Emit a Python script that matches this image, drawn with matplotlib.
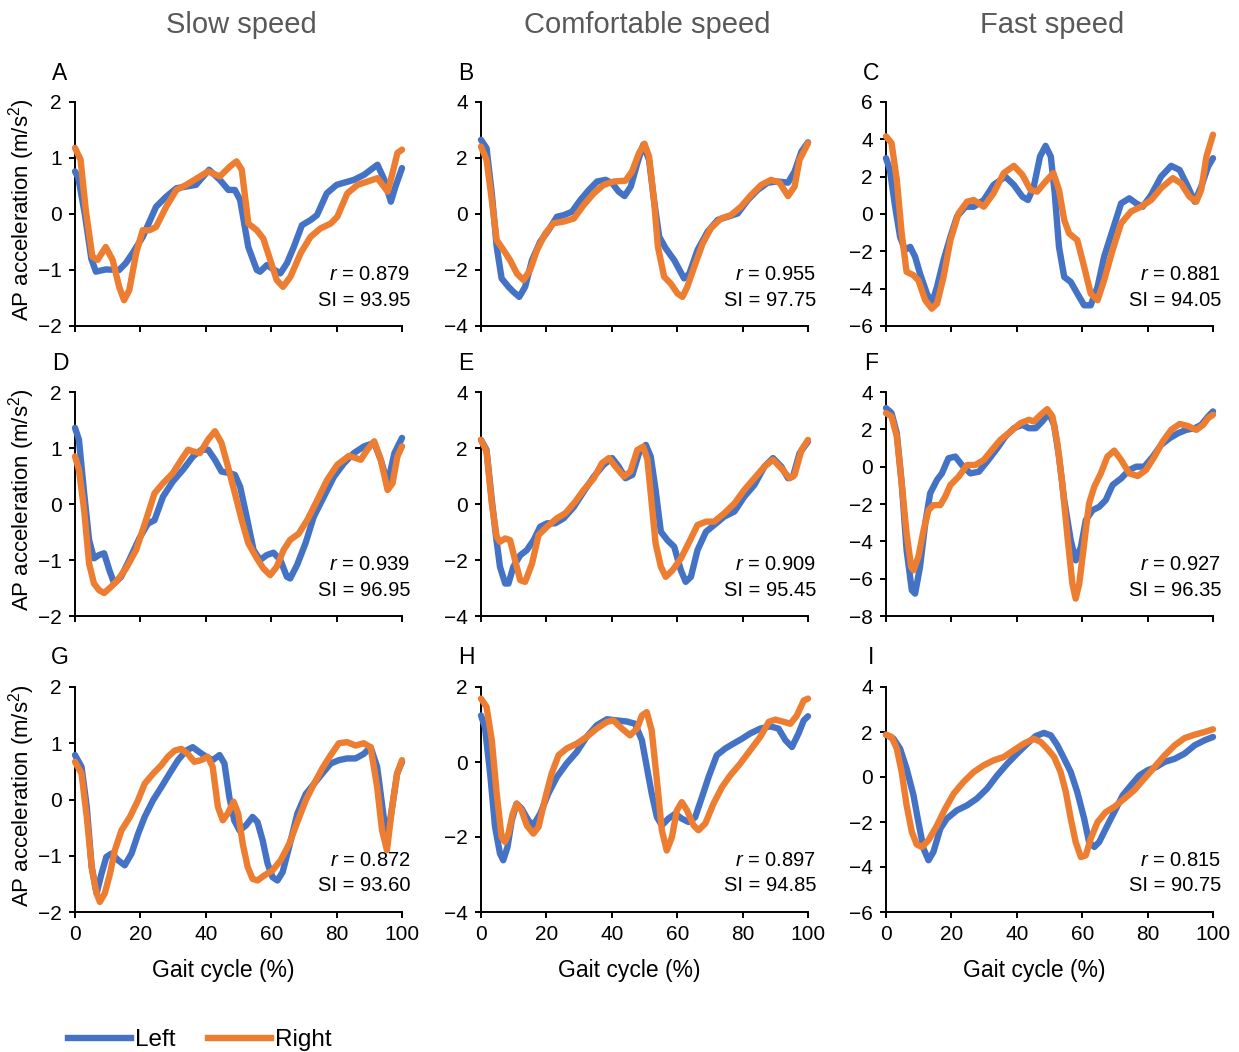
import matplotlib.pyplot as plt

plt.rcParams['font.family'] = ['Liberation Sans', 'DejaVu Sans']
plt.rcParams['mathtext.fontset'] = 'custom'
plt.rcParams['mathtext.rm'] = 'Liberation Sans'
plt.rcParams['mathtext.it'] = 'Liberation Sans:italic'

BLUE = '#4472C4'
ORANGE = '#ED7D31'

# ---- data (gait cycle %, AP acceleration m/s^2) ----
# A: slow
a_left_x = [0, 1, 3, 5, 6.4, 9.4, 13.5, 15.5, 17.6, 20.7, 24.8, 27.9, 31, 34, 37, 41, 44.3, 46.9, 48.9, 50.5,
            53, 55.6, 56.6, 58.7, 60.2, 62.8, 64.8, 66.9, 69.4, 72, 74, 77, 80, 85.3, 88.4, 92.5, 94.6, 96.6, 98, 100]
a_left_y = [0.76, 0.65, 0.0, -0.8, -1.03, -0.99, -1.0, -0.88, -0.70, -0.41, 0.13, 0.31, 0.46, 0.49, 0.52, 0.79,
            0.61, 0.43, 0.43, 0.25, -0.59, -1.0, -1.03, -0.91, -0.97, -1.06, -0.88, -0.59, -0.2, -0.11, -0.02,
            0.37, 0.52, 0.61, 0.70, 0.88, 0.61, 0.22, 0.49, 0.82]
a_right_x = [0, 1.7, 3.3, 5.3, 6.9, 9.4, 11.5, 13.5, 15, 16.6, 18.7, 20.7, 22.8, 24.8, 27.9, 31, 34, 38.2, 40.7,
             44.3, 47.4, 49.4, 51, 53, 55.6, 57.6, 59.7, 61.7, 63.6, 65.9, 69, 72, 75, 78.2, 80.2, 83.3, 86.4,
             89.5, 92.5, 95.6, 97.1, 98.6, 100]
a_right_y = [1.18, 0.97, 0.07, -0.76, -0.82, -0.59, -0.82, -1.3, -1.54, -1.36, -0.70, -0.29, -0.29, -0.23, 0.13,
             0.43, 0.52, 0.67, 0.76, 0.67, 0.85, 0.94, 0.79, -0.17, -0.29, -0.44, -0.82, -1.18, -1.30, -1.12,
             -0.70, -0.41, -0.26, -0.17, -0.05, 0.37, 0.52, 0.58, 0.64, 0.40, 0.73, 1.09, 1.15]

# B: comfortable
b_left_x = [0, 1.7, 3.3, 4.8, 6.3, 8.4, 9.9, 11.7, 13.5, 15.6, 18.1, 20.7, 23.2, 25.3, 27.8, 30.4, 33, 35.5,
            38.1, 40.1, 42.1, 43.9, 45.8, 47.8, 49.6, 51.4, 52.9, 54.5, 56.5, 59.1, 62.1, 63.7, 66.2, 69.3, 72.4,
            75.4, 78.5, 81.6, 84.6, 87.7, 90.8, 93.9, 95.9, 98, 100]
b_left_y = [2.65, 2.35, 0.74, -1.17, -2.30, -2.6, -2.78, -2.96, -2.6, -1.65, -0.99, -0.57, -0.1, -0.04, 0.08,
            0.50, 0.86, 1.16, 1.22, 1.10, 0.80, 0.64, 0.98, 1.81, 2.47, 1.93, 0.50, -0.81, -1.23, -1.65, -2.30,
            -2.13, -1.29, -0.63, -0.21, -0.1, 0.02, 0.5, 0.86, 1.12, 1.16, 1.12, 1.52, 2.23, 2.56]
b_right_x = [0, 1.7, 3.3, 4.8, 6.9, 8.9, 11, 13, 15, 17.1, 19.7, 22.2, 25.3, 28.4, 31.4, 34.5, 37.5, 40.6, 44.2,
             46.2, 48.3, 50, 51.4, 52.9, 54.1, 56, 58, 60.1, 61.6, 63.1, 65.2, 67.8, 70.3, 73.4, 76.4, 79.5, 82.6,
             85.7, 88.7, 91.3, 93.9, 95.9, 97.4, 100]
b_right_y = [2.41, 1.93, 0.50, -0.93, -1.29, -1.65, -2.13, -2.36, -2.0, -1.29, -0.69, -0.33, -0.27, -0.16, 0.32,
             0.74, 1.04, 1.16, 1.19, 1.52, 2.17, 2.51, 2.05, 0.5, -1.17, -2.24, -2.48, -2.84, -2.96, -2.6, -1.89,
             -1.05, -0.51, -0.16, -0.04, 0.26, 0.68, 1.04, 1.22, 1.12, 0.64, 0.98, 1.93, 2.53]

# C: fast
c_left_x = [0, 1.2, 2.8, 4.3, 5.8, 7.4, 8.9, 10.4, 12.5, 14, 15.6, 17.6, 19.7, 21.7, 24.3, 26.8, 29.9, 32.9,
            36.5, 39.1, 41.7, 43.4, 45.2, 47.1, 48.8, 50.4, 51.6, 52.9, 54.5, 56.5, 58.5, 60.6, 62.6, 64.7, 66.7,
            69.3, 71.9, 74.4, 76.5, 78.5, 81.1, 84.1, 87.2, 89.8, 92.3, 94.4, 96.4, 98.5, 100]
c_left_y = [2.99, 2.36, 0.39, -1.22, -1.93, -1.76, -2.29, -3.19, -4.26, -4.8, -3.9, -2.47, -1.22, -0.14, 0.39,
            0.39, 0.75, 1.56, 2.0, 1.56, 0.93, 0.75, 1.47, 3.08, 3.65, 3.08, 1.11, -1.76, -3.37, -3.64, -4.26,
            -4.89, -4.89, -3.9, -2.29, -0.86, 0.57, 0.84, 0.57, 0.39, 1.02, 2.0, 2.58, 2.36, 1.47, 0.66, 1.47,
            2.54, 2.99]
c_right_x = [0, 1.7, 3.3, 4.8, 6.3, 8.4, 9.9, 12, 14, 15.6, 17.6, 19.7, 22.2, 24.8, 26.8, 29.9, 32.9, 36, 39.1,
             41.7, 44.2, 46.2, 48.8, 51.2, 52.9, 54.5, 56, 58.5, 60.6, 62.6, 64.7, 66.7, 69.3, 71.9, 74.9, 78,
             81.1, 84.1, 87.7, 90.2, 92.8, 94.9, 96.4, 98, 100]
c_right_y = [4.16, 3.8, 1.83, -1.04, -3.1, -3.28, -3.55, -4.62, -5.07, -4.8, -3.37, -1.40, 0.04, 0.66, 0.75,
             0.39, 1.11, 2.19, 2.58, 2.1, 1.29, 1.2, 1.74, 2.19, 1.29, -0.32, -1.04, -1.40, -2.83, -4.26, -4.62,
             -3.55, -1.93, -0.5, 0.13, 0.39, 0.75, 1.38, 1.92, 1.65, 0.93, 0.66, 1.29, 3.08, 4.25]

# D: slow
d_left_x = [0, 1.2, 2.8, 4.3, 5.8, 7.4, 8.9, 10.5, 12, 14.1, 16.6, 19.7, 22.3, 24.3, 26.9, 29.9, 33, 36.1, 38.7,
            40.7, 42.8, 44.8, 47.4, 48.9, 50.5, 52.5, 54.6, 56.6, 58.7, 60.7, 62.8, 64.8, 65.8, 67.9, 70.5, 73,
            76.1, 79.2, 82.3, 85.3, 88.4, 91.5, 93.5, 95.6, 97.7, 100]
d_left_y = [1.36, 1.15, 0.19, -0.64, -0.97, -0.91, -0.88, -1.18, -1.42, -1.3, -1.0, -0.61, -0.35, -0.29, 0.13,
            0.40, 0.61, 0.85, 0.97, 0.97, 0.79, 0.58, 0.55, 0.52, 0.31, -0.23, -0.82, -1.0, -0.91, -0.87, -1.0,
            -1.3, -1.33, -1.09, -0.70, -0.23, 0.13, 0.49, 0.73, 0.91, 1.03, 1.09, 0.79, 0.37, 0.91, 1.18]
d_right_x = [0, 1.2, 2.8, 4.3, 5.8, 7.4, 8.9, 11, 13, 15.6, 18.7, 21.7, 24.3, 26.9, 29.9, 32.5, 34.6, 36.1,
             38.2, 40.7, 42.8, 44.8, 46.9, 48.9, 51, 53, 55.6, 57.6, 59.7, 61.7, 63.8, 65.8, 68.4, 71, 74.1,
             77.1, 80.2, 83.8, 87.4, 89.4, 91.5, 93.5, 95.6, 97.1, 98.6, 100]
d_right_y = [0.85, 0.61, -0.11, -1.06, -1.42, -1.54, -1.59, -1.48, -1.36, -1.15, -0.82, -0.29, 0.19, 0.37,
             0.55, 0.79, 0.97, 0.94, 0.91, 1.15, 1.30, 1.09, 0.64, 0.19, -0.29, -0.70, -0.97, -1.15, -1.27,
             -1.12, -0.82, -0.64, -0.53, -0.29, 0.07, 0.43, 0.70, 0.86, 0.79, 0.97, 1.12, 0.79, 0.25, 0.37,
             0.85, 1.03]

# E: comfortable
e_left_x = [0, 1.7, 3.3, 4.6, 5.8, 7.4, 8.4, 9.9, 12, 14, 16.1, 18.1, 20.2, 22.7, 25.3, 28.4, 31.4, 34.5, 37.5,
            40.1, 42.1, 44.2, 46.3, 48.3, 50.4, 51.9, 53.4, 55, 57, 59.1, 61.1, 62.6, 64.2, 66.2, 68.8, 71.3,
            74.4, 77.5, 80.5, 83.6, 86.7, 89.3, 91.8, 93.9, 95.4, 97.4, 100]
e_left_y = [2.29, 1.93, 0.14, -1.17, -2.24, -2.84, -2.84, -2.24, -1.83, -1.65, -1.29, -0.81, -0.69, -0.69,
            -0.51, -0.10, 0.44, 0.98, 1.40, 1.64, 1.34, 0.92, 1.04, 1.81, 2.11, 1.70, 0.50, -0.99, -1.29, -1.53,
            -2.36, -2.78, -2.6, -1.65, -0.99, -0.75, -0.45, -0.27, 0.26, 0.68, 1.34, 1.64, 1.34, 0.92, 0.98,
            1.81, 2.23]
e_right_x = [0, 1.7, 3.3, 4.8, 5.8, 7.4, 8.9, 10.4, 12, 13.5, 15.6, 17.6, 20.2, 23.2, 25.8, 28.8, 31.4, 34.5,
             37, 39.1, 41.1, 43.7, 45.7, 47.8, 49.6, 50.9, 52.1, 53.4, 55, 56.5, 58.6, 61.1, 63.7, 66.2, 68.8,
             71.3, 74.4, 77.5, 80.5, 83.6, 86.7, 89.3, 91.8, 94.4, 95.9, 98, 100]
e_right_y = [2.29, 1.87, 0.02, -1.17, -1.35, -1.23, -1.29, -2.0, -2.72, -2.78, -2.13, -1.11, -0.81, -0.51,
             -0.33, 0.08, 0.50, 0.92, 1.46, 1.64, 1.34, 0.98, 1.16, 1.93, 2.05, 1.58, 0.14, -1.41, -2.24, -2.60,
             -2.36, -1.95, -1.35, -0.75, -0.63, -0.63, -0.33, 0.02, 0.50, 0.92, 1.34, 1.58, 1.28, 0.92, 1.04,
             1.93, 2.29]

# F: fast
f_left_x = [0, 1.7, 3.3, 4.8, 6.3, 7.9, 8.9, 10.4, 12, 13.5, 15.6, 17.1, 19.1, 21.2, 23.2, 25.8, 28.4, 30.9, 34,
            36.5, 39.1, 41.7, 43.7, 45.8, 47.8, 49.8, 51.4, 52.9, 54.5, 56.5, 58, 59.6, 61.1, 63.2, 65.2, 67.2,
            69.3, 71.9, 74.4, 76.5, 79, 81.6, 84.1, 86.7, 89.3, 91.8, 94.4, 96.4, 98.5, 100]
f_left_y = [3.14, 2.87, 1.80, -0.89, -4.47, -6.62, -6.80, -5.37, -3.04, -1.43, -0.71, -0.36, 0.45, 0.54, 0.09,
            -0.36, -0.27, 0.27, 0.98, 1.61, 2.06, 2.24, 2.06, 2.06, 2.42, 2.87, 2.24, 0.54, -1.79, -3.94, -5.02,
            -4.30, -2.86, -2.33, -2.15, -1.79, -0.98, -0.63, -0.18, 0.0, 0.0, 0.54, 1.16, 1.52, 1.79, 1.97,
            2.06, 2.24, 2.69, 2.96]
f_right_x = [0, 1.7, 3.3, 4.8, 6.3, 7.7, 8.4, 9.9, 11.5, 13, 14.5, 16.6, 18.1, 19.7, 22.2, 24.8, 27.3, 29.9,
             32.4, 35, 38.1, 41.1, 43.7, 45.2, 47.3, 49.3, 50.9, 52.4, 53.9, 55.5, 57, 58, 59.1, 60.6, 62.1,
             63.7, 65.7, 67.7, 69.8, 71.9, 74.4, 77, 79.5, 82.1, 84.6, 87.2, 89.8, 92.3, 94.9, 97, 98.5, 100]
f_right_y = [2.87, 2.69, 1.62, -0.89, -3.58, -5.37, -5.55, -4.83, -3.40, -2.33, -2.06, -2.06, -1.61, -0.98,
             -0.54, 0.09, 0.09, 0.36, 0.90, 1.44, 1.88, 2.33, 2.51, 2.42, 2.78, 3.08, 2.69, 1.26, -0.89, -3.76,
             -6.27, -7.07, -6.27, -4.12, -1.97, -1.07, -0.36, 0.54, 0.86, 0.36, -0.36, -0.5, -0.18, 0.54, 1.34,
             1.97, 2.29, 2.18, 1.97, 2.24, 2.60, 2.78]

# G: slow
g_left_x = [0, 2, 3.6, 5.1, 6.6, 8.1, 9.6, 11.2, 13.2, 15.2, 17.3, 19.3, 21.3, 23.9, 26.4, 28.9, 31.5, 34, 36,
            38.1, 40.1, 42.1, 44.2, 45.7, 47.2, 48.7, 50.3, 52.3, 54.3, 55.8, 57.4, 58.9, 60.4, 61.9, 63.5, 65.5,
            68, 70.6, 73.1, 75.6, 78.2, 80.7, 83.2, 85.8, 88.3, 90.4, 92.4, 94.4, 95.4, 97, 98.5, 100]
g_left_y = [0.79, 0.58, -0.13, -1.2, -1.67, -1.32, -1.02, -0.96, -1.08, -1.17, -0.96, -0.61, -0.31, -0.01, 0.22,
            0.46, 0.70, 0.87, 0.93, 0.84, 0.76, 0.70, 0.79, 0.64, 0.04, -0.37, -0.55, -0.46, -0.31, -0.40, -0.73,
            -1.14, -1.38, -1.44, -1.29, -0.84, -0.25, 0.10, 0.28, 0.46, 0.64, 0.70, 0.73, 0.73, 0.81, 0.93, 0.58,
            -0.31, -0.73, -0.13, 0.46, 0.67]
g_right_x = [0, 2, 3.6, 5.1, 6.6, 7.6, 9.1, 10.7, 12.2, 14.2, 16.8, 19.3, 21.3, 23.9, 26.4, 28.4, 30.5, 32.5,
             34.5, 36.5, 38.6, 40.6, 42.1, 43.7, 45.2, 46.7, 48.5, 49.9, 51.3, 52.8, 54.3, 55.8, 57.9, 60.4,
             62.9, 65.5, 68, 70.6, 73.1, 75.6, 78.2, 80.7, 83.2, 85.8, 88.3, 90.4, 92.4, 93.9, 95.4, 97, 98.5, 100]
g_right_y = [0.67, 0.46, -0.31, -1.2, -1.67, -1.82, -1.67, -1.32, -0.90, -0.55, -0.31, -0.01, 0.28, 0.46, 0.61,
             0.76, 0.87, 0.90, 0.81, 0.67, 0.70, 0.76, 0.58, -0.13, -0.37, -0.25, -0.04, -0.25, -0.79, -1.20,
             -1.41, -1.44, -1.35, -1.26, -1.08, -0.79, -0.40, -0.01, 0.28, 0.55, 0.79, 1.0, 1.02, 0.96, 1.0,
             0.93, 0.22, -0.55, -0.90, -0.13, 0.46, 0.70]

# H: comfortable
h_left_x = [0, 1.2, 2.8, 4.3, 5.8, 6.8, 8.1, 9.4, 10.9, 12.4, 14.5, 16, 18.1, 20.6, 23.2, 26.2, 29.3, 32.3,
            35.4, 38.5, 41.5, 44.6, 47.1, 49.2, 50.7, 52.2, 53.8, 55.3, 57.3, 59.4, 61.4, 63.5, 65.5, 67.6, 69.6,
            72.1, 74.7, 77.2, 79.8, 82.3, 85.4, 88.5, 91, 93.1, 95.1, 97.1, 98.7, 100]
h_left_y = [1.24, 0.93, -0.31, -1.73, -2.44, -2.62, -2.27, -1.56, -1.11, -1.24, -1.56, -1.69, -1.38, -0.84,
            -0.40, -0.04, 0.27, 0.67, 0.98, 1.14, 1.11, 1.08, 1.02, 0.58, -0.13, -0.84, -1.47, -1.69, -1.51,
            -1.38, -1.51, -1.6, -1.47, -0.93, -0.40, 0.18, 0.36, 0.49, 0.62, 0.76, 0.89, 0.95, 0.89, 0.58, 0.40,
            0.76, 1.11, 1.22]
h_right_x = [0, 1.7, 3.3, 4.8, 6.3, 7.3, 8.4, 9.7, 10.9, 12.4, 14, 16, 17.6, 19.6, 21.6, 23.7, 26.2, 29.3,
             32.3, 35.4, 38.5, 40.5, 43.1, 45.6, 47.7, 49.2, 50.7, 52.2, 53.8, 55.3, 56.8, 58.4, 59.9, 61.4, 63,
             65, 66.5, 68.6, 71.1, 73.7, 76.2, 79.3, 82.3, 85.4, 88, 90, 92.6, 94.6, 96.6, 98.7, 100]
h_right_y = [1.69, 1.47, 0.58, -0.84, -2.0, -2.13, -1.91, -1.38, -1.11, -1.29, -1.69, -1.91, -1.73, -0.98,
             -0.31, 0.18, 0.36, 0.49, 0.67, 0.89, 1.07, 1.11, 0.89, 0.71, 0.89, 1.24, 1.33, 0.84, -0.49, -1.82,
             -2.36, -2.0, -1.29, -1.07, -1.29, -1.69, -1.82, -1.64, -1.11, -0.67, -0.36, -0.04, 0.31, 0.67,
             1.07, 1.13, 1.07, 1.02, 1.24, 1.64, 1.69]

# I: fast
i_left_x = [0, 2.3, 4.3, 6.3, 8.4, 9.9, 11.5, 13, 14.5, 16.6, 18.6, 21.7, 24.8, 27.8, 30.9, 34, 37.1, 40.1,
            43.2, 45.8, 48.3, 50.4, 52.4, 54.5, 56.5, 58.5, 60.6, 62.1, 63.7, 65.2, 67.2, 69.8, 72.4, 74.9, 77.5,
            80, 82.6, 85.2, 88.3, 91.3, 94.4, 97.4, 100]
i_left_y = [1.88, 1.70, 1.26, 0.37, -0.81, -2.0, -3.19, -3.70, -3.33, -2.30, -1.85, -1.48, -1.26, -0.96, -0.52,
            0.07, 0.59, 1.04, 1.48, 1.82, 1.96, 1.85, 1.41, 0.81, 0.22, -0.67, -1.85, -2.89, -3.11, -2.89,
            -2.30, -1.56, -0.81, -0.37, 0.07, 0.30, 0.44, 0.67, 0.81, 1.04, 1.41, 1.63, 1.78]
i_right_x = [0, 1.7, 3.3, 4.8, 6.3, 7.9, 9.4, 11, 13, 15.6, 18.1, 20.7, 23.7, 26.8, 29.9, 32.9, 36, 39.1, 42.1,
             45.2, 47.3, 49.3, 51.4, 53.4, 55, 56.5, 58, 59.6, 61.1, 62.6, 64.7, 67.2, 69.8, 72.9, 75.9, 79,
             82.1, 85.2, 88.3, 91.3, 94.4, 97.4, 100]
i_right_y = [1.88, 1.78, 1.26, 0.22, -1.26, -2.44, -3.0, -3.11, -2.81, -2.15, -1.41, -0.74, -0.22, 0.22, 0.52,
             0.74, 0.89, 1.19, 1.48, 1.70, 1.56, 1.26, 0.89, 0.22, -0.67, -1.85, -2.89, -3.56, -3.48, -2.74,
             -2.0, -1.56, -1.33, -0.96, -0.59, -0.07, 0.44, 0.96, 1.41, 1.73, 1.88, 2.0, 2.12]

panel_letters = ["A", "B", "C", "D", "E", "F", "G", "H", "I"]
r_values = ["0.879", "0.955", "0.881", "0.939", "0.909", "0.927", "0.872", "0.897", "0.815"]
si_values = ["93.95", "97.75", "94.05", "96.95", "95.45", "96.35", "93.60", "94.85", "90.75"]
y_limits = [(-2, 2, 1), (-4, 4, 2), (-6, 6, 2),
            (-2, 2, 1), (-4, 4, 2), (-8, 4, 2),
            (-2, 2, 1), (-4, 2, 2), (-6, 4, 2)]
col_titles = ["Slow speed", "Comfortable speed", "Fast speed"]
x_ticks = [0, 20, 40, 60, 80, 100]

series = [(a_left_x, a_left_y, a_right_x, a_right_y), (b_left_x, b_left_y, b_right_x, b_right_y),
          (c_left_x, c_left_y, c_right_x, c_right_y), (d_left_x, d_left_y, d_right_x, d_right_y),
          (e_left_x, e_left_y, e_right_x, e_right_y), (f_left_x, f_left_y, f_right_x, f_right_y),
          (g_left_x, g_left_y, g_right_x, g_right_y), (h_left_x, h_left_y, h_right_x, h_right_y),
          (i_left_x, i_left_y, i_right_x, i_right_y)]

W, H = 1239, 1052
fig = plt.figure(figsize=(W / 100, H / 100), dpi=100)

col_left = [75, 481, 886]
col_w = 327
row_top = [102, 392, 687]
row_bot = [326, 616, 912]
LW = 4.6

for k in range(9):
    r, c = divmod(k, 3)
    x0 = col_left[c] / W
    y0 = 1 - row_bot[r] / H
    ax = fig.add_axes([x0, y0, col_w / W, (row_bot[r] - row_top[r]) / H])
    lx, ly, rx, ry = series[k]
    ax.plot(lx, ly, color=BLUE, lw=LW, solid_joinstyle='round', solid_capstyle='round', clip_on=False, zorder=3)
    ax.plot(rx, ry, color=ORANGE, lw=LW, solid_joinstyle='round', solid_capstyle='round', clip_on=False, zorder=4)

    lo, hi, step = y_limits[k]
    ax.set_ylim(lo, hi)
    ax.set_yticks(range(lo, hi + 1, step))
    ax.set_xlim(0, 100)
    ax.set_xticks(x_ticks)
    for s in ['top', 'right']:
        ax.spines[s].set_visible(False)
    for s in ['left', 'bottom']:
        ax.spines[s].set_linewidth(1.4)
    ax.tick_params(direction='out', length=4.5, width=1.4, labelsize=15, pad=5)
    if r < 2:
        ax.set_xticklabels([])

    ax.text(1.025, 0.228, r"$r$ = " + r_values[k], transform=ax.transAxes,
            ha='right', va='center', fontsize=14.5)
    ax.text(1.025, 0.116, "SI = " + si_values[k], transform=ax.transAxes,
            ha='right', va='center', fontsize=14.5)

    # panel letter
    fig.text((col_left[c] - 15) / W, 1 - (row_top[r] - 29) / H, panel_letters[k],
             ha='center', va='center', fontsize=16.5)

    if c == 0:
        fig.text(22 / W, 1 - ((row_top[r] + row_bot[r]) / 2 - 4) / H, r"AP acceleration (m/s$^2$)",
                 rotation=90, ha='center', va='center', fontsize=16)
    if r == 2:
        fig.text((col_left[c] + col_w / 2 - 15) / W, 1 - 971 / H, "Gait cycle (%)",
                 ha='center', va='center', fontsize=16.5)
    if r == 0:
        fig.text((col_left[c] + col_w / 2 + 3) / W, 1 - 25 / H, col_titles[c],
                 ha='center', va='center', fontsize=21, color='#595959')

handles = [plt.Line2D([], [], color=BLUE, lw=LW), plt.Line2D([], [], color=ORANGE, lw=LW)]
fig.legend(handles, ["Left", "Right"], loc='center left', bbox_to_anchor=(68 / W, 1 - 1040 / H),
           ncol=2, frameon=False, fontsize=17.5, handlelength=2.6, handletextpad=0.15,
           columnspacing=1.35, borderpad=0, borderaxespad=0)

fig.savefig("out.png", dpi=100)
